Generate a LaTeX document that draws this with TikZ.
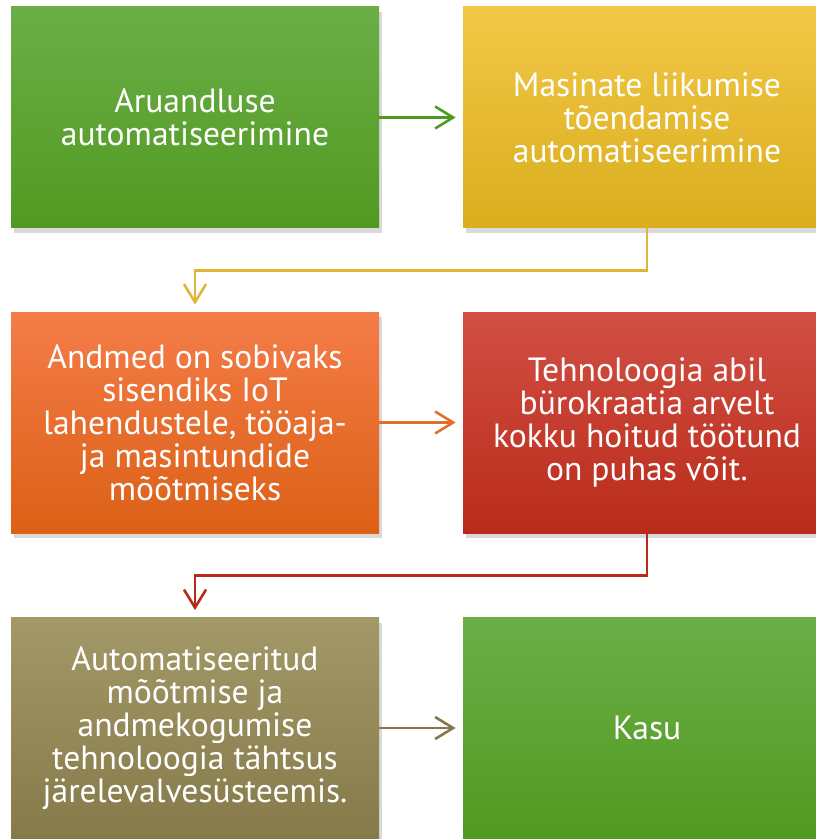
\documentclass[tikz,border=0pt]{standalone}
\usepackage{fontspec}
\setmainfont{PT Sans}
\usetikzlibrary{arrows.meta,shadows,shadings}

\definecolor{rohelineA}{HTML}{6BAE47}
\definecolor{rohelineB}{HTML}{519A21}
\definecolor{kollaneA}{HTML}{F1C746}
\definecolor{kollaneB}{HTML}{DBAE1E}
\definecolor{oranzA}{HTML}{F47C48}
\definecolor{oranzB}{HTML}{DC6016}
\definecolor{punaneA}{HTML}{D24F45}
\definecolor{punaneB}{HTML}{B92B19}
\definecolor{oliivA}{HTML}{A39868}
\definecolor{oliivB}{HTML}{867A4A}

\tikzset{
  kast/.style={minimum width=184pt, minimum height=110.5pt, inner sep=0pt,
    align=center, text=white, font=\fontsize{16.8}{16.5}\selectfont,
    drop shadow={shadow xshift=1.5pt, shadow yshift=-2.5pt, opacity=0.3}},
  nool/.style={->, line width=1.3pt, shorten >=3.5pt}
}

\begin{document}
\begin{tikzpicture}[x=0.5pt, y=-0.5pt, >={Straight Barb[length=9pt,width=11pt]}]
    \useasboundingbox (0,0) rectangle (815,839);

    % esimene rida
    \node[kast, top color=rohelineA, bottom color=rohelineB] (aruandlus) at (195,117.5)
        {Aruandluse\\automatiseerimine};
    \node[kast, top color=kollaneA, bottom color=kollaneB] (liikumine) at (647,117.5)
        {Masinate liikumise\\tõendamise\\automatiseerimine};

    % teine rida
    \node[kast, top color=oranzA, bottom color=oranzB] (andmed) at (195,422.5)
        {Andmed on sobivaks\\sisendiks IoT\\lahendustele, tööaja-\\ja masintundide\\mõõtmiseks};
    \node[kast, top color=punaneA, bottom color=punaneB] (tehnoloogia) at (647,422.5)
        {Tehnoloogia abil\\bürokraatia arvelt\\kokku hoitud töötund\\on puhas võit.};

    % kolmas rida
    \node[kast, top color=oliivA, bottom color=oliivB] (tahtsus) at (195,728)
        {Automatiseeritud\\mõõtmise ja\\andmekogumise\\tehnoloogia tähtsus\\järelevalvesüsteemis.};
    \node[kast, top color=rohelineA, bottom color=rohelineB] (kasu) at (647,728)
        {Kasu};

    % nooled
    \draw[nool, rohelineB] (aruandlus) -- (liikumine);
    \draw[nool, kollaneB!90!white] (liikumine.south) -- ++(0,42) -| (andmed.north);
    \draw[nool, oranzB!90!white] (andmed) -- (tehnoloogia);
    \draw[nool, punaneB] (tehnoloogia.south) -- ++(0,42) -| (tahtsus.north);
    \draw[nool, oliivB] (tahtsus) -- (kasu);
\end{tikzpicture}
\end{document}
